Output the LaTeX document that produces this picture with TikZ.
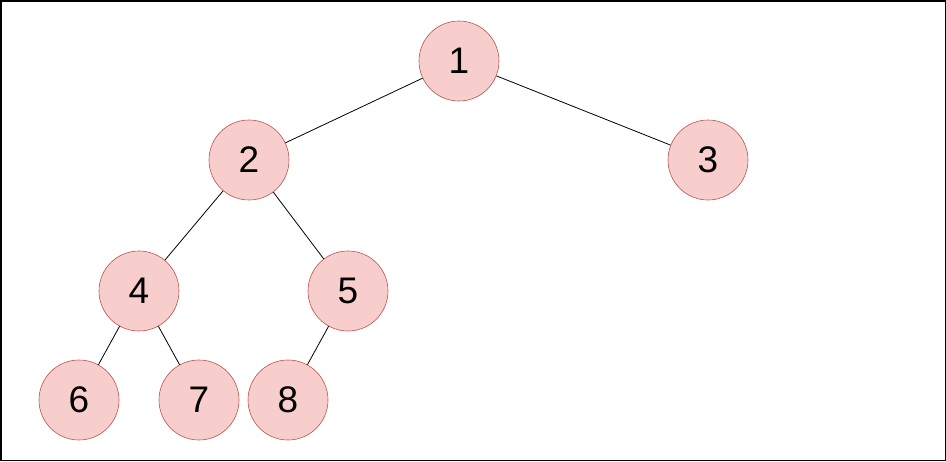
\documentclass[tikz,border=0pt]{standalone}
\usepackage{fontspec}
\setmainfont{Liberation Sans}
\definecolor{nodefill}{RGB}{248,206,204}
\definecolor{nodeline}{RGB}{184,84,80}
\begin{document}
\begin{tikzpicture}[x=1pt,y=-1pt,
  tnode/.style={circle,draw=nodeline,fill=nodefill,minimum size=80pt,inner sep=0pt,line width=0.6pt,font=\fontsize{37}{37}\selectfont},
  edge/.style={draw=black,line width=0.8pt}]
\draw[line width=1.5pt] (0.75,0.75) rectangle (945.25,460.25);
\useasboundingbox (0,0) rectangle (946,461);
\node[tnode] (n1) at (459,61) {1};
\node[tnode] (n2) at (249,160) {2};
\node[tnode] (n3) at (708,160) {3};
\node[tnode] (n4) at (139,291) {4};
\node[tnode] (n5) at (348,291) {5};
\node[tnode] (n6) at (79,400) {6};
\node[tnode] (n7) at (199,400) {7};
\node[tnode] (n8) at (288,400) {8};
\draw[edge] (n1) -- (n2);
\draw[edge] (n1) -- (n3);
\draw[edge] (n2) -- (n4);
\draw[edge] (n2) -- (n5);
\draw[edge] (n4) -- (n6);
\draw[edge] (n4) -- (n7);
\draw[edge] (n5) -- (n8);
\end{tikzpicture}
\end{document}
